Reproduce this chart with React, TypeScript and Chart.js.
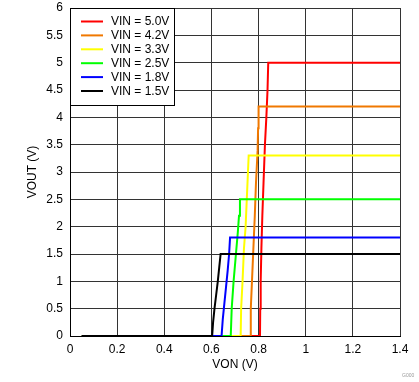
import React, { useEffect, useRef } from "react";
import { Chart, registerables } from "chart.js";

Chart.register(...registerables);

const labels = ["VIN = 5.0V", "VIN = 4.2V", "VIN = 3.3V", "VIN = 2.5V", "VIN = 1.8V", "VIN = 1.5V"];
const colors = ["#FF0000", "#F07800", "#FFFF00", "#00FF00", "#0000FF", "#000000"];

const x50 = [0.05, 0.806, 0.807, 0.809, 0.812, 0.816, 0.821, 0.827, 0.833, 0.838, 0.841, 1.4];
const y50 = [0, 0, 0.5, 1.0, 1.6, 2.2, 2.8, 3.5, 4.0, 4.5, 5.0, 5.0];
const x42 = [0.05, 0.764, 0.767, 0.772, 0.778, 0.784, 0.789, 0.796, 0.798, 0.8, 1.4];
const y42 = [0, 0, 0.5, 1.0, 1.6, 2.2, 2.8, 3.4, 3.8, 4.2, 4.2];
const x33 = [0.05, 0.724, 0.726, 0.732, 0.738, 0.745, 0.75, 0.755, 0.758, 1.4];
const y33 = [0, 0, 0.5, 1.0, 1.6, 2.0, 2.5, 3.0, 3.3, 3.3];
const x25 = [0.05, 0.682, 0.686, 0.694, 0.704, 0.712, 0.717, 0.721, 1.4];
const y25 = [0, 0, 0.5, 1.0, 1.5, 1.9, 2.2, 2.5, 2.5];
const x18 = [0.05, 0.643, 0.648, 0.655, 0.662, 0.669, 0.675, 0.679, 1.4];
const y18 = [0, 0, 0.3, 0.6, 0.9, 1.2, 1.5, 1.8, 1.8];
const x15 = [0.05, 0.603, 0.607, 0.613, 0.62, 0.627, 0.633, 0.639, 1.4];
const y15 = [0, 0, 0.25, 0.5, 0.75, 1.0, 1.25, 1.5, 1.5];

const xSeries = [x50, x42, x33, x25, x18, x15];
const ySeries = [y50, y42, y33, y25, y18, y15];

const FONT = "'Liberation Sans', Arial, sans-serif";

const fmt = (v: any) => String(Math.round(Number(v) * 10) / 10);

const zeroPad = (s: any) => {
  s.paddingTop = 0;
  s.paddingBottom = 0;
  s.paddingLeft = 0;
  s.paddingRight = 0;
};

const legendPlugin = {
  id: "boxLegend",
  afterDatasetsDraw(chart: any) {
    const { ctx, chartArea } = chart;
    const left = chartArea.left;
    const top = chartArea.top;
    const w = 104;
    const h = 97;
    ctx.save();
    ctx.fillStyle = "#FFFFFF";
    ctx.fillRect(left, top, w, h);
    ctx.strokeStyle = "#000000";
    ctx.lineWidth = 1;
    ctx.strokeRect(left + 0.5, top + 0.5, w, h);
    ctx.font = `12px ${FONT}`;
    ctx.textBaseline = "middle";
    ctx.textAlign = "left";
    for (let i = 0; i < labels.length; i++) {
      const y = top + 13.5 + i * 13.9;
      ctx.strokeStyle = colors[i];
      ctx.lineWidth = 2;
      ctx.beginPath();
      ctx.moveTo(left + 11, y);
      ctx.lineTo(left + 33, y);
      ctx.stroke();
      ctx.fillStyle = "#000000";
      ctx.fillText(labels[i], left + 41, y + 0.5);
    }
    ctx.restore();
  },
};

export default function App() {
  const ref = useRef<HTMLCanvasElement>(null);
  useEffect(() => {
    if (!ref.current) return;
    const datasets = labels.map((l, i) => ({
      label: l,
      data: xSeries[i].map((x, j) => ({ x, y: ySeries[i][j] })),
      borderColor: colors[i],
      backgroundColor: colors[i],
      borderWidth: 2,
      pointRadius: 0,
      tension: 0,
      fill: false,
      order: labels.length - i,
    }));
    const chart = new Chart(ref.current, {
      type: "line",
      data: { datasets },
      plugins: [legendPlugin],
      options: {
        animation: false,
        responsive: false,
        maintainAspectRatio: false,
        layout: { padding: { top: 8, right: 19, left: 0, bottom: 0 } },
        plugins: { legend: { display: false }, tooltip: { enabled: false } },
        scales: {
          x: {
            type: "linear",
            min: 0,
            max: 1.4,
            ticks: {
              stepSize: 0.2,
              padding: 6,
              color: "#000",
              font: { family: FONT, size: 12 },
              callback: fmt,
            },
            grid: { color: "#333333", lineWidth: 1, drawTicks: false },
            border: { color: "#000000", width: 1 },
            title: {
              display: true,
              text: "VON (V)",
              color: "#000",
              font: { family: FONT, size: 12 },
              padding: { top: 0, bottom: 10 },
            },
            afterFit: (s: any) => {
              s.height = 46;
              zeroPad(s);
            },
          },
          y: {
            type: "linear",
            min: 0,
            max: 6,
            ticks: {
              stepSize: 0.5,
              padding: 7,
              color: "#000",
              font: { family: FONT, size: 12 },
              callback: fmt,
            },
            grid: { color: "#333333", lineWidth: 1, drawTicks: false },
            border: { color: "#000000", width: 1 },
            title: {
              display: true,
              text: "VOUT (V)",
              color: "#000",
              font: { family: FONT, size: 12 },
              padding: { top: 25, bottom: 0 },
            },
            afterFit: (s: any) => {
              s.width = 70;
              zeroPad(s);
            },
          },
        },
      },
    });
    return () => chart.destroy();
  }, []);
  return (
    <div style={{ position: "fixed", left: 0, top: 0, width: 419, height: 382, background: "#fff" }}>
      <canvas ref={ref} width={419} height={382} style={{ display: "block" }} />
      <div
        style={{
          position: "absolute",
          left: 402,
          top: 372,
          fontSize: 5,
          fontFamily: FONT,
          color: "#999",
          lineHeight: "6px",
        }}
      >
        G000
      </div>
    </div>
  );
}
